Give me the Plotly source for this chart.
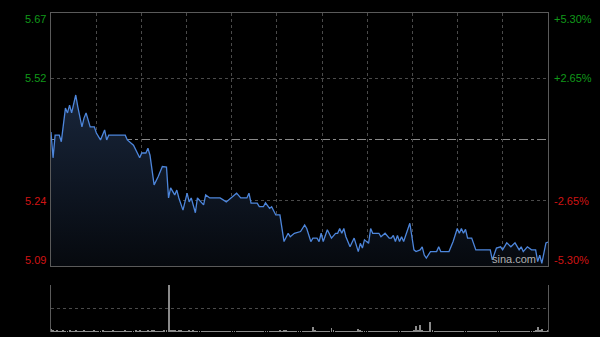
import plotly.graph_objects as go

# ---- data ----
prev_close = 5.38
y_min, y_max = 5.09, 5.67
left_ticks = [5.67, 5.52, 5.24, 5.09]
right_ticks = ["+5.30%", "+2.65%", "-2.65%", "-5.30%"]
n_minutes = 241

minute = [0, 1, 2, 4, 5, 6, 7, 8, 9, 10, 12, 13, 15, 16, 17, 19, 21, 22, 24, 26,
          27, 28, 36, 37, 40, 43, 44, 46, 47, 48, 50, 52, 54, 56, 57, 58, 60, 61, 62, 64,
          66, 67, 68, 70, 71, 74, 75, 77, 82, 85, 88, 90, 92, 95, 96, 97, 100, 101, 103, 104,
          106, 107, 109, 111, 113, 115, 116, 118, 121, 123, 124, 126, 127, 129, 130, 131, 132, 134, 136, 138,
          139, 140, 141, 142, 143, 145, 147, 149, 150, 151, 152, 154, 155, 156, 159, 160, 162, 164, 165, 166,
          167, 168, 169, 170, 171, 172, 174, 176, 177, 179, 180, 181, 182, 184, 187, 188, 189, 193, 195, 197,
          198, 199, 200, 201, 202, 204, 206, 213, 214, 216, 218, 219, 221, 223, 225, 227, 228, 229, 231, 233,
          235, 236, 237, 238, 240, 241]
price = [5.397, 5.338, 5.390, 5.390, 5.375, 5.418, 5.452, 5.441, 5.459, 5.441, 5.482, 5.455, 5.409, 5.429, 5.441, 5.409, 5.409, 5.395, 5.379, 5.402,
         5.379, 5.390, 5.390, 5.379, 5.367, 5.338, 5.349, 5.349, 5.360, 5.344, 5.276, 5.295, 5.318, 5.317, 5.246, 5.269, 5.253, 5.264, 5.246, 5.218,
         5.257, 5.237, 5.246, 5.212, 5.246, 5.230, 5.253, 5.246, 5.246, 5.237, 5.249, 5.257, 5.246, 5.246, 5.257, 5.234, 5.234, 5.226, 5.226, 5.235,
         5.222, 5.226, 5.207, 5.207, 5.146, 5.165, 5.157, 5.165, 5.169, 5.184, 5.176, 5.146, 5.154, 5.154, 5.146, 5.165, 5.146, 5.173, 5.154, 5.165,
         5.165, 5.176, 5.165, 5.176, 5.157, 5.134, 5.154, 5.123, 5.142, 5.131, 5.150, 5.142, 5.176, 5.165, 5.165, 5.157, 5.165, 5.154, 5.154, 5.160,
         5.146, 5.160, 5.146, 5.157, 5.146, 5.162, 5.188, 5.127, 5.123, 5.127, 5.134, 5.115, 5.108, 5.123, 5.123, 5.134, 5.123, 5.123, 5.146, 5.176,
         5.165, 5.176, 5.165, 5.174, 5.154, 5.154, 5.127, 5.127, 5.104, 5.131, 5.134, 5.127, 5.143, 5.134, 5.143, 5.127, 5.134, 5.123, 5.134, 5.127,
         5.127, 5.100, 5.115, 5.096, 5.143, 5.145]

volume = [6, 3, 2, 3, 2, 2, 3, 2, 2, 3, 2, 2, 3, 2, 2, 2, 3, 2, 2, 2,
          2, 3, 2, 2, 2, 3, 2, 2, 2, 2, 3, 2, 2, 2, 2, 2, 3, 2, 2, 2,
          2, 3, 2, 3, 2, 2, 2, 3, 2, 4, 3, 2, 2, 2, 2, 3, 4, 100, 4, 3,
          3, 2, 3, 3, 2, 2, 2, 3, 2, 3, 2, 2, 2, 2, 2, 2, 2, 2, 2, 2,
          2, 2, 2, 2, 2, 2, 2, 2, 2, 2, 2, 2, 2, 2, 2, 2, 2, 2, 2, 2,
          2, 2, 2, 2, 2, 2, 2, 2, 2, 2, 2, 3, 2, 4, 3, 2, 2, 2, 2, 2,
          2, 2, 2, 2, 2, 2, 2, 11, 3, 2, 2, 2, 2, 2, 2, 2, 8, 3, 2, 2,
          2, 2, 2, 2, 2, 2, 2, 2, 2, 6, 3, 2, 2, 2, 2, 2, 2, 2, 2, 2,
          2, 2, 2, 2, 2, 2, 2, 2, 2, 2, 2, 2, 2, 2, 2, 2, 3, 13, 4, 15,
          3, 2, 2, 2, 21, 3, 2, 2, 2, 2, 2, 2, 2, 2, 2, 2, 2, 2, 2, 2,
          2, 2, 2, 2, 2, 2, 2, 2, 2, 2, 2, 2, 2, 2, 2, 2, 2, 2, 2, 2,
          2, 2, 2, 2, 2, 2, 2, 2, 2, 2, 2, 2, 2, 2, 2, 3, 11, 3, 6, 2,
          2, 3]
vol_max = 100

# ---- styling ----
GREEN = "#11991a"
RED = "#d01414"
LINE = "#4d86dc"
BORDER = "#5a5a5a"
GRID = "#4a4a4a"

fig = go.Figure()

fig.add_trace(go.Scatter(
    x=minute, y=price, mode="lines",
    line=dict(color=LINE, width=1.3),
    fill="tozeroy",
    fillgradient=dict(type="vertical", start=y_min, stop=5.48,
                      colorscale=[[0, "#06090e"], [1, "#18253a"]]),
    hoverinfo="skip", xaxis="x", yaxis="y",
))

fig.add_trace(go.Bar(
    x=list(range(len(volume))), y=volume,
    marker=dict(color="#8a8a8a", line=dict(width=0)),
    width=0.45, xaxis="x2", yaxis="y2", hoverinfo="skip",
))

vgrid = [n_minutes * k / 11 for k in range(1, 11)]

fig.update_layout(
    width=600, height=337,
    margin=dict(l=51, r=52, t=13, b=5),
    paper_bgcolor="#000000", plot_bgcolor="#000000",
    showlegend=False,
    bargap=0,
    xaxis=dict(domain=[0, 1], range=[0, n_minutes], tickvals=vgrid,
               showticklabels=False, ticks="", showgrid=True, griddash="dot",
               gridcolor=GRID, gridwidth=1, zeroline=False,
               showline=True, mirror=True, linecolor=BORDER, linewidth=1,
               anchor="y"),
    yaxis=dict(domain=[0.2069, 1], range=[y_min, y_max],
               tickvals=[left_ticks[1], left_ticks[2]],
               showticklabels=False, ticks="", showgrid=True, griddash="dot",
               gridcolor=GRID, zeroline=False,
               showline=True, mirror=True, linecolor=BORDER, linewidth=1,
               anchor="x"),
    xaxis2=dict(domain=[0, 1], range=[0, n_minutes], matches="x",
                showticklabels=False, ticks="", showgrid=False, zeroline=False,
                showline=False, anchor="y2"),
    yaxis2=dict(domain=[0, 0.1473], range=[0, vol_max],
                tickvals=[0, vol_max / 2, vol_max], showticklabels=False, ticks="",
                showgrid=True, griddash="dot", gridcolor=GRID, zeroline=False,
                showline=True, mirror=True, linecolor=BORDER, linewidth=1,
                anchor="x2"),
)

fig.add_shape(type="line", xref="x domain", yref="y", x0=0, x1=1,
              y0=prev_close, y1=prev_close,
              line=dict(color="#8a8a8a", width=1, dash="dashdot"), layer="below")

shifts = [-6, 0, 0, 6]
colors = [GREEN, GREEN, RED, RED]
for val, rtxt, ys, col in zip(left_ticks, right_ticks, shifts, colors):
    fig.add_annotation(xref="paper", yref="y", x=0, y=val, text=f"{val:.2f}",
                       xanchor="right", yanchor="middle", xshift=-3, yshift=ys,
                       showarrow=False,
                       font=dict(family="Arial, Liberation Sans", size=11, color=col))
    fig.add_annotation(xref="paper", yref="y", x=1, y=val, text=rtxt,
                       xanchor="left", yanchor="middle", xshift=4, yshift=ys,
                       showarrow=False,
                       font=dict(family="Arial, Liberation Sans", size=11, color=col))

fig.add_annotation(xref="paper", yref="y", x=0.98, y=y_min, text="sina.com",
                   xanchor="right", yanchor="bottom", yshift=-1, showarrow=False,
                   font=dict(family="Arial, Liberation Sans", size=11, color="#b0b0b0"))

fig.write_html("out.html")
